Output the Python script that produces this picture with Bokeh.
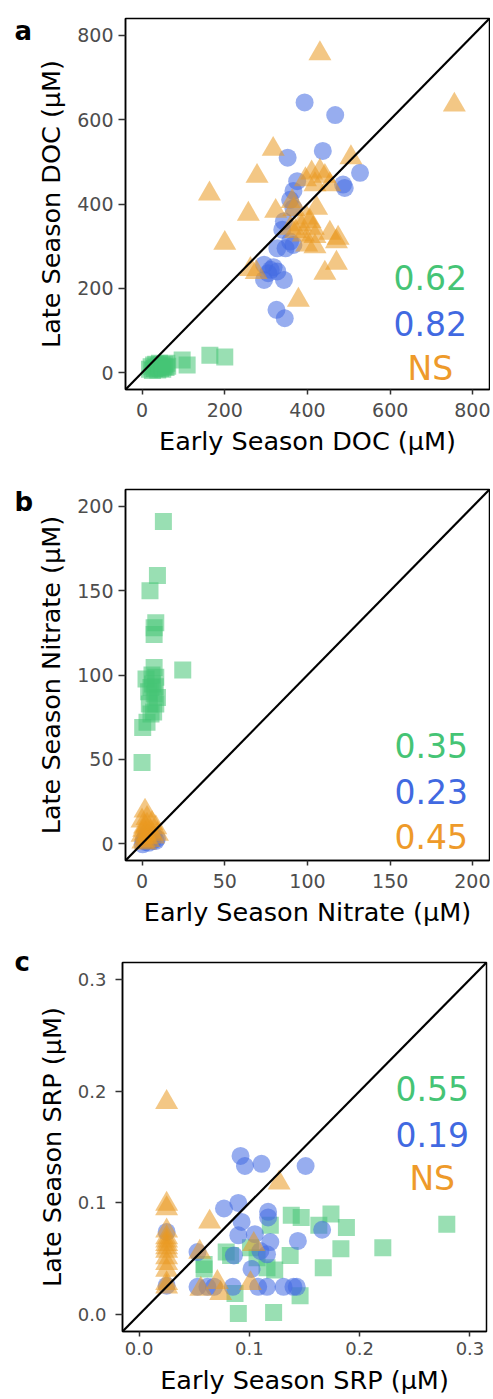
from bokeh.plotting import figure
from bokeh.layouts import column, row
from bokeh.models import Range1d, FixedTicker, Slope, Label, NumeralTickFormatter
from bokeh.core.properties import value
from bokeh.embed import file_html
from bokeh.resources import INLINE

FONT = "DejaVu Sans"
GREEN = "#45C475"
BLUE = "#4169E1"
ORANGE = "#E99921"
TEXT_ORANGE = "#EE9A2A"

# ---------------- Panel a: DOC (µM) ----------------
doc_green_early = [18, 22, 25, 28, 30, 33, 36, 38, 40, 42, 45, 48, 50, 53, 55, 58, 60, 62, 97, 109, 164, 200]
doc_green_late = [8, 14, 5, 18, 10, 20, 12, 6, 16, 22, 10, 18, 8, 14, 20, 12, 22, 15, 30, 18, 41, 37]
doc_blue_early = [393, 467, 352, 437, 527, 486, 490, 375, 366, 358, 366, 343, 339, 327, 347, 366, 358,
                  295, 311, 327, 295, 343, 305, 318, 325, 345]
doc_blue_late = [641, 611, 510, 526, 474, 446, 438, 454, 431, 410, 390, 359, 339, 295, 295, 303, 311,
                 256, 244, 240, 220, 220, 236, 250, 149, 129]
doc_orange_early = [430, 755, 317, 505, 278, 163, 410, 430, 442, 395, 418, 454, 257, 323, 363, 367, 422,
                    398, 406, 383, 414, 359, 371, 390, 418, 454, 474, 470, 418, 398, 470, 442, 262, 276,
                    378, 200]
doc_orange_late = [757, 635, 530, 510, 466, 424, 474, 478, 466, 458, 446, 446, 376, 383, 406, 387, 390,
                   367, 359, 351, 343, 343, 335, 327, 323, 331, 319, 311, 299, 303, 260, 236, 245, 238,
                   172, 307]
doc_stats = ["0.62", "0.82", "NS"]

# ---------------- Panel b: Nitrate (µM) ----------------
no3_green_early = [12.9, 9.3, 4.8, 8.3, 7.3, 7.3, 24.6, 7.3, 2.4, 8.3, 5.4, 7.3, 4.4, 8.3, 5.4, 0.4, 0.0,
                   6.4, 9.3, 6.0, 8.0, 4.0, 7.0, 3.0]
no3_green_late = [191, 159, 150, 131, 128, 124, 103, 104.5, 97.6, 98.6, 92.6, 88.7, 82.8, 82.8, 76.8, 68.9,
                  48.1, 94.6, 86.7, 100, 93, 90, 78, 72]
no3_blue_early = [0.4, 2.0, 3.0, 5.0, 6.4, 8.3, 2.0, 4.0, 7.0, 1.0, 3.0, 9.0]
no3_blue_late = [-0.4, 1.0, 2.0, 3.0, 1.6, 1.6, 4.0, 0.5, 5.0, 2.0, 6.0, 3.0]
no3_orange_early = [1.8, 0.0, 9.3, 2.4, 8.3, 1.0, 3.0, 2.0, 4.0, 5.0, 0.5, 6.0, 3.0, 1.5, 7.0, 0.0, 2.0]
no3_orange_late = [19.4, 13.5, 5.6, 3.6, 9.5, 8.0, 11.0, 6.0, 2.0, 7.0, 1.0, 12.0, 15.0, 10.0, 4.0, 5.0, 0.5]
no3_stats = ["0.35", "0.23", "0.45"]

# ---------------- Panel c: SRP (µM) ----------------
srp_green_early = [0.079, 0.083, 0.059, 0.059, 0.119, 0.138, 0.147, 0.101, 0.107, 0.116, 0.123, 0.137,
                   0.087, 0.090, 0.122, 0.146, 0.174, 0.163, 0.188, 0.183, 0.221, 0.279, 0.167]
srp_green_late = [0.056, 0.053, 0.041, 0.045, 0.080, 0.089, 0.087, 0.060, 0.051, 0.042, 0.040, 0.053,
                  0.019, 0.001, 0.002, 0.017, 0.090, 0.080, 0.078, 0.059, 0.060, 0.081, 0.042]
srp_blue_early = [0.025, 0.025, 0.092, 0.096, 0.111, 0.151, 0.077, 0.090, 0.117, 0.117, 0.093, 0.090,
                  0.105, 0.119, 0.144, 0.053, 0.086, 0.110, 0.116, 0.102, 0.166, 0.053, 0.062, 0.068,
                  0.085, 0.108, 0.116, 0.131, 0.140, 0.143]
srp_blue_late = [0.074, 0.026, 0.142, 0.133, 0.135, 0.133, 0.095, 0.100, 0.092, 0.087, 0.083, 0.071,
                 0.072, 0.065, 0.066, 0.056, 0.053, 0.057, 0.054, 0.041, 0.076, 0.025, 0.025, 0.025,
                 0.025, 0.025, 0.025, 0.025, 0.025, 0.025]
srp_orange_early = [0.025, 0.025, 0.025, 0.025, 0.025, 0.025, 0.025, 0.025, 0.025, 0.025, 0.025, 0.025,
                    0.025, 0.025, 0.127, 0.064, 0.055, 0.104, 0.071, 0.056, 0.074, 0.101]
srp_orange_late = [0.190, 0.099, 0.095, 0.075, 0.069, 0.063, 0.057, 0.051, 0.046, 0.040, 0.028, 0.025,
                   0.060, 0.066, 0.118, 0.083, 0.056, 0.063, 0.029, 0.023, 0.019, 0.028]
srp_stats = ["0.55", "0.19", "NS"]

SIDE_W = 33
MAIN_W = 457


def side_panel(letter, height, letter_base):
    s = figure(width=SIDE_W, height=height, output_backend="svg", toolbar_location=None,
               x_range=Range1d(0, SIDE_W), y_range=Range1d(0, height), min_border=0,
               x_axis_location=None, y_axis_location=None, frame_align=False)
    s.grid.visible = False
    s.outline_line_color = None
    s.text(x=[14], y=[height - letter_base], text=[letter], text_font=value(FONT),
           text_font_style="bold", text_font_size="26px", text_color="black",
           text_align="left", text_baseline="alphabetic")
    return s


def make_panel(letter, var, lo, hi, ticks, green, blue, orange, stats, stat_x, stat_ys,
               border, height, tick_fs, letter_base, fmt=None, ylab_standoff=5,
               xlab_standoff=8, xtitle_standoff=6, ytitle_standoff=8):
    p = figure(width=MAIN_W, height=height, output_backend="svg", toolbar_location=None,
               x_range=Range1d(lo, hi), y_range=Range1d(lo, hi), frame_align=False,
               min_border_left=border[0], min_border_right=border[1],
               min_border_top=border[2], min_border_bottom=border[3])
    p.grid.visible = False
    p.outline_line_color = "black"
    p.outline_line_width = 1.5
    p.outline_line_alpha = 1.0
    p.xaxis.axis_label = f"Early Season {var} (µM)"
    p.yaxis.axis_label = f"Late Season {var} (µM)"
    for ax in (p.xaxis[0], p.yaxis[0]):
        ax.ticker = FixedTicker(ticks=ticks)
        if fmt:
            ax.formatter = NumeralTickFormatter(format=fmt)
        ax.axis_line_color = "black"
        ax.axis_line_width = 1.5
        ax.major_tick_line_color = "#333333"
        ax.major_tick_line_width = 1.5
        ax.major_tick_in = 0
        ax.minor_tick_line_color = None
        ax.major_label_text_font = FONT
        ax.major_label_text_font_size = tick_fs
        ax.major_label_text_color = "#4D4D4D"
        ax.axis_label_text_font = FONT
        ax.axis_label_text_font_size = "25.5px"
        ax.axis_label_text_font_style = "normal"
        ax.axis_label_text_color = "black"
    p.xaxis.major_tick_out = 5
    p.yaxis.major_tick_out = 7
    p.xaxis.major_label_standoff = xlab_standoff
    p.yaxis.major_label_standoff = ylab_standoff
    p.xaxis.axis_label_standoff = xtitle_standoff
    p.yaxis.axis_label_standoff = ytitle_standoff

    p.scatter(green[0], green[1], marker="square", size=17, fill_color=GREEN,
              fill_alpha=0.55, line_color=None)
    p.scatter(blue[0], blue[1], marker="circle", size=18, fill_color=BLUE,
              fill_alpha=0.55, line_color=None)
    p.scatter(orange[0], orange[1], marker="triangle", size=23, fill_color=ORANGE,
              fill_alpha=0.55, line_color=None)

    p.add_layout(Slope(gradient=1, y_intercept=0, line_color="black", line_width=2.2))

    for txt, y, col in zip(stats, stat_ys, [GREEN, BLUE, TEXT_ORANGE]):
        p.add_layout(Label(x=stat_x, y=y, text=txt, text_align="center",
                           text_baseline="alphabetic", text_font=FONT,
                           text_font_size="33px", text_color=col))
    s = side_panel(letter, height, letter_base)
    return row(s, p, spacing=0)


pa = make_panel("a", "DOC", -40, 840, [0, 200, 400, 600, 800],
                (doc_green_early, doc_green_late), (doc_blue_early, doc_blue_late),
                (doc_orange_early, doc_orange_late), doc_stats, 697, [225.5, 116.7, 9.5],
                (86, 1, 18, 81), 470, "19px", 30.7)
pb = make_panel("b", "Nitrate", -10, 210, [0, 50, 100, 150, 200],
                (no3_green_early, no3_green_late), (no3_blue_early, no3_blue_late),
                (no3_orange_early, no3_orange_late), no3_stats, 174.8, [58.0, 30.9, 4.0],
                (86, 1, 19, 71), 461, "19px", 31.7)
pc = make_panel("c", "SRP", -0.015, 0.315, [0.0, 0.1, 0.2, 0.3],
                (srp_green_early, srp_green_late), (srp_blue_early, srp_blue_late),
                (srp_orange_early, srp_orange_late), srp_stats, 0.2658, [0.2023, 0.161, 0.1214],
                (83, 4, 31, 68), 468, "18px", 30.7, fmt="0.0",
                ylab_standoff=9, xlab_standoff=5, xtitle_standoff=7, ytitle_standoff=8)

layout = column(pa, pb, pc, spacing=0)
open("out.html", "w").write(file_html(layout, INLINE))
